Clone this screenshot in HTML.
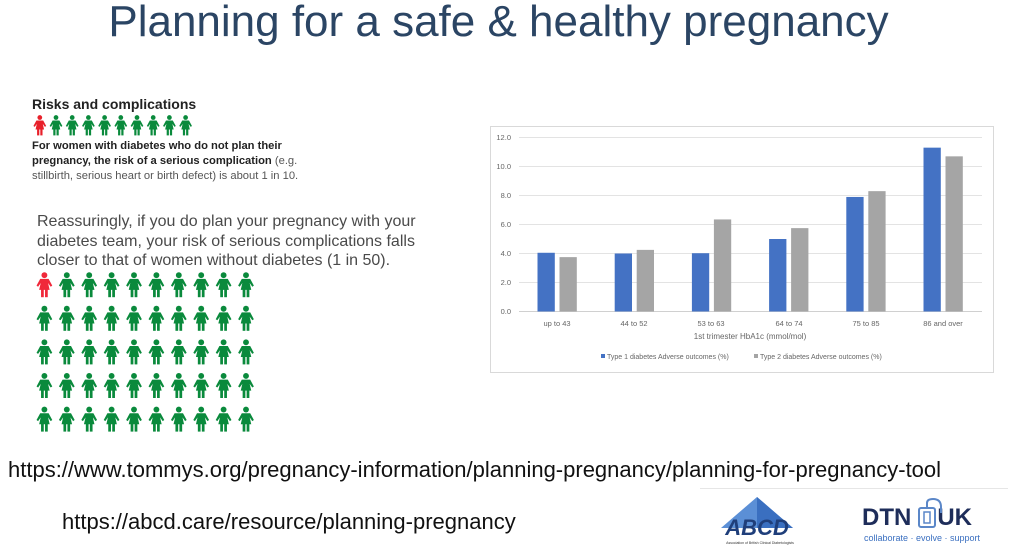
<!DOCTYPE html>
<html><head><meta charset="utf-8"><style>
body{margin:0;width:1023px;height:551px;background:#fff;position:relative;overflow:hidden;font-family:"Liberation Sans",sans-serif}
.a{position:absolute;white-space:nowrap}
</style></head><body>
<div class="a" style="left:0;width:997px;text-align:center;top:-3px;font-size:44px;color:#2b4564;">Planning for a safe &amp; healthy pregnancy</div>

<div class="a" style="left:32px;top:96px;font-size:14px;font-weight:bold;color:#222">Risks and complications</div>
<div class="a" style="left:32px;top:139px;font-size:11.2px;line-height:15px;color:#222;"><b>For women with diabetes who do not plan their<br>pregnancy, the risk of a serious complication</b> <span style="color:#555">(e.g.</span><br><span style="color:#555">stillbirth, serious heart or birth defect) is about 1 in 10.</span></div>
<div class="a" style="left:37px;top:212px;font-size:16px;line-height:19.5px;color:#4a4a4a;">Reassuringly, if you do plan your pregnancy with your<br>diabetes team, your risk of serious complications falls<br>closer to that of women without diabetes (1 in 50).</div>

<svg class="a" style="left:0;top:0" width="1023" height="551" id="ic"></svg>

<svg class="a" style="left:490px;top:126px" width="504" height="247">
<rect x="0.5" y="0.5" width="503" height="246" fill="#fff" stroke="#d9d9d9"/>
<g stroke="#e3e3e3" stroke-width="1">
<line x1="29" x2="492" y1="11.5" y2="11.5"/><line x1="29" x2="492" y1="40.5" y2="40.5"/><line x1="29" x2="492" y1="69.5" y2="69.5"/><line x1="29" x2="492" y1="98.5" y2="98.5"/><line x1="29" x2="492" y1="127.5" y2="127.5"/><line x1="29" x2="492" y1="156.5" y2="156.5"/><line x1="29" x2="492" y1="185.5" y2="185.5" stroke="#d0d0d0"/>
</g>
<g font-size="7.5" fill="#666" text-anchor="end">
<text x="21" y="14">12.0</text><text x="21" y="43">10.0</text><text x="21" y="72">8.0</text><text x="21" y="101">6.0</text><text x="21" y="130">4.0</text><text x="21" y="159">2.0</text><text x="21" y="188">0.0</text>
</g>
<g id="bars"></g>
<g font-size="7.5" fill="#666" text-anchor="middle">
<text x="67" y="200">up to 43</text><text x="144" y="200">44 to 52</text><text x="221" y="200">53 to 63</text><text x="299" y="200">64 to 74</text><text x="376" y="200">75 to 85</text><text x="453" y="200">86 and over</text>
<text x="260" y="213" font-size="8">1st trimester HbA1c (mmol/mol)</text>
</g>
<rect x="111" y="228" width="4" height="4" fill="#4472c4"/><text x="117" y="233" font-size="7" fill="#666">Type 1 diabetes Adverse outcomes (%)</text>
<rect x="264" y="228" width="4" height="4" fill="#a5a5a5"/><text x="270" y="233" font-size="7" fill="#666">Type 2 diabetes Adverse outcomes (%)</text>
</svg>

<div class="a" style="left:8px;top:457px;font-size:22px;color:#111">https://www.tommys.org/pregnancy-information/planning-pregnancy/planning-for-pregnancy-tool</div>
<div class="a" style="left:62px;top:509px;font-size:22px;color:#111">https://abcd.care/resource/planning-pregnancy</div>

<div class="a" style="left:700px;top:488px;width:308px;height:1px;background:#e6e6e6"></div>
<svg class="a" style="left:705px;top:493px" width="120" height="56">
<polygon points="52,4 88,35 16,35" fill="#5b8fd6"/>
<polygon points="52,4 88,35 52,35" fill="#3a6fc0"/>
<text x="52" y="42" font-size="22" font-weight="bold" font-style="italic" fill="#1f3e7a" text-anchor="middle">ABCD</text>
<text x="55" y="51" font-size="3.5" fill="#333" text-anchor="middle">Association of British Clinical Diabetologists</text>
</svg>
<div class="a" style="left:862px;top:504px;font-size:24px;font-weight:bold;color:#1e2d5a;">DTN<span style="display:inline-block;width:26px"></span>UK</div>
<svg class="a" style="left:915px;top:497px" width="36" height="36">
<rect x="4" y="11" width="16" height="19" rx="2" fill="none" stroke="#5b87c8" stroke-width="2"/>
<rect x="9" y="15" width="6" height="11" fill="none" stroke="#5b87c8" stroke-width="1.5"/>
<path d="M12 11 V6 Q12 2 18 2 Q26 2 26 10 V16" fill="none" stroke="#5b87c8" stroke-width="2"/>
</svg>
<div class="a" style="left:864px;top:533px;font-size:9px;color:#3a6fc0">collaborate · evolve · support</div>

<script>
var ns="http://www.w3.org/2000/svg";
var ic=document.getElementById("ic");
function person(x,y,s,c){
 var g=document.createElementNS(ns,"g");
 g.setAttribute("transform","translate("+x+","+y+") scale("+s+")");
 g.setAttribute("fill",c);
 g.innerHTML='<circle cx="8" cy="3" r="2.8"/><path d="M4 6.5 H12 L15.5 13 L14 14 L11.5 10.5 L13 17 H3 L4.5 10.5 L2 14 L0.5 13 Z"/><rect x="4.8" y="16" width="2.6" height="8"/><rect x="8.6" y="16" width="2.6" height="8"/>';
 ic.appendChild(g);
}
for(var i=0;i<10;i++) person(33+i*16.2,115,0.85,i==0?"#e8202a":"#0a8a3c");
for(var r=0;r<5;r++)for(var i=0;i<10;i++) person(36+i*22.4,272+r*33.6,1.05,(r==0&&i==0)?"#f0283a":"#0a8a3c");
var t1=[4.05,4.0,4.02,5.0,7.9,11.3],t2=[3.75,4.25,6.35,5.75,8.3,10.7];
var b=document.getElementById("bars"),h="";
for(var k=0;k<6;k++){
 var x0=29+k*77.2;
 var y1=185.5-t1[k]*14.5,y2=185.5-t2[k]*14.5;
 h+='<rect x="'+(x0+18.5)+'" y="'+y1+'" width="17.3" height="'+(185.5-y1)+'" fill="#4472c4"/>';
 h+='<rect x="'+(x0+40.5)+'" y="'+y2+'" width="17.3" height="'+(185.5-y2)+'" fill="#a5a5a5"/>';
}
b.innerHTML=h;
</script>
</body></html>
